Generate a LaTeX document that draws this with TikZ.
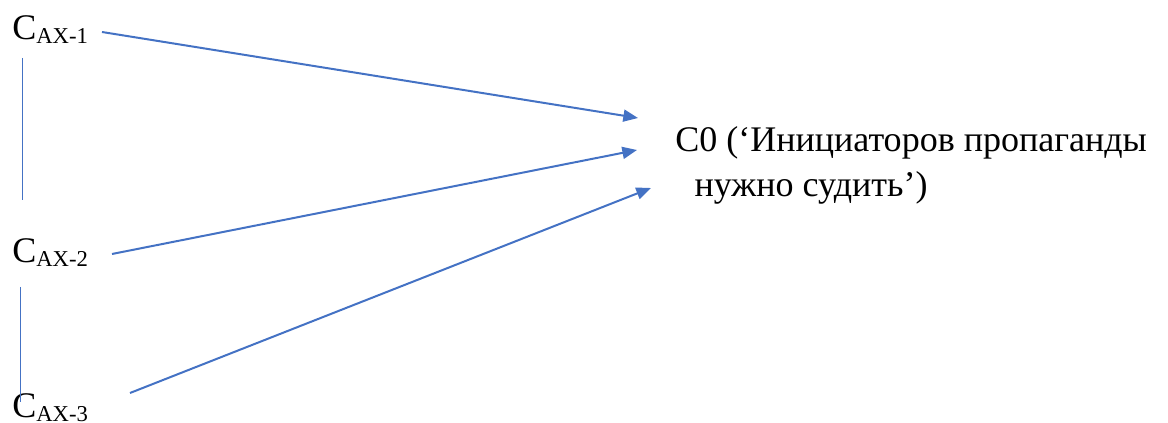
\documentclass[tikz,border=0pt]{standalone}
\usepackage{fontspec}
\usepackage{graphicx}
\newfontfamily\tnrfont{Liberation Serif}
\definecolor{wdblue}{RGB}{68,114,196}
\usetikzlibrary{arrows.meta}
\newcommand{\axsub}[1]{C\raisebox{-3pt}{\scalebox{0.63}{#1}}}

\begin{document}
\begin{tikzpicture}[x=0.75pt, y=-0.75pt,
    lbl/.style={inner sep=0pt, anchor=base west, scale=0.965, transform shape,
                font=\tnrfont\fontsize{28}{35}\selectfont},
    arr/.style={-{Triangle[length=11pt,width=9pt]}, line width=1.5pt, wdblue},
    link/.style={line width=0.75pt, wdblue}
  ]
    \useasboundingbox (0,0) rectangle (1168,423);

    % Premise nodes
    \node[lbl] (ax1) at (12, 40)  {\axsub{AX-1}};
    \node[lbl] (ax2) at (12, 263) {\axsub{AX-2}};
    \node[lbl] (ax3) at (12, 418) {\axsub{AX-3}};

    % Conclusion (base anchor sits on the second line)
    \node[lbl, align=left] (c0) at (675, 197)
      {C0 (‘Инициаторов пропаганды\\\hspace*{15pt}нужно судить’)};

    % Connector ends
    \coordinate (s1) at (102, 32);
    \coordinate (s2) at (112, 254);
    \coordinate (s3) at (130, 393);
    \coordinate (t1) at (638, 118);
    \coordinate (t2) at (637, 150);
    \coordinate (t3) at (651, 188);
    \coordinate (v1a) at (22, 58);
    \coordinate (v1b) at (22, 200);
    \coordinate (v2a) at (20, 287);
    \coordinate (v2b) at (20, 402);

    % Arrows into conclusion
    \draw[arr] (s1) -- (t1);
    \draw[arr] (s2) -- (t2);
    \draw[arr] (s3) -- (t3);

    % Links between premises
    \draw[link] (v1a) -- (v1b);
    \draw[link] (v2a) -- (v2b);
\end{tikzpicture}
\end{document}
